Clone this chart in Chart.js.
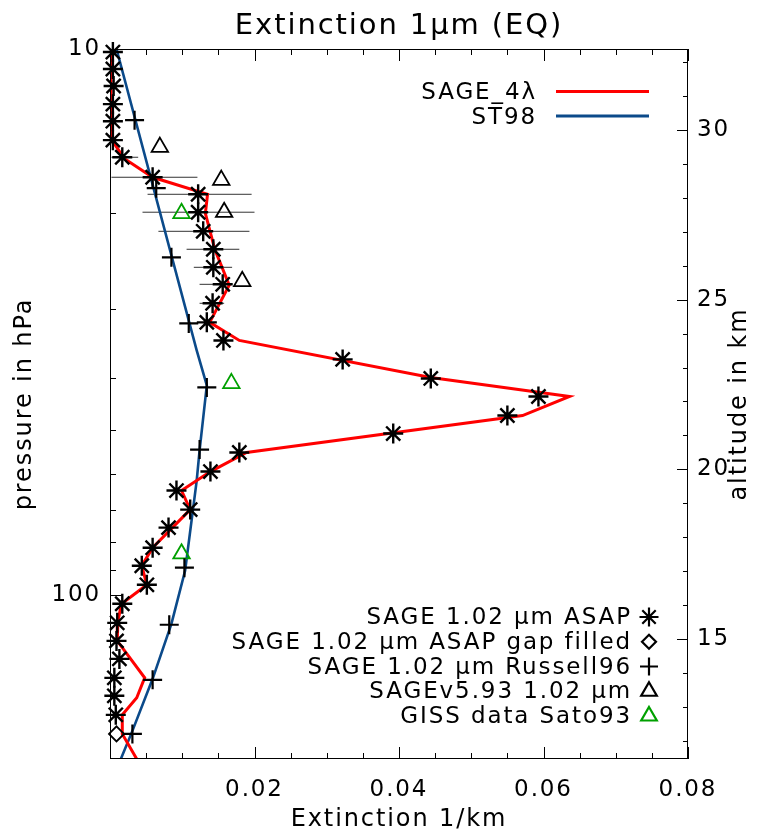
<!DOCTYPE html>
<html>
<head>
<meta charset="utf-8">
<script src="https://cdn.jsdelivr.net/npm/chart.js@4.4.0/dist/chart.umd.min.js"></script>
<style>
  body { margin: 0; background: #fff; }
</style>
</head>
<body>
<canvas id="grafico" width="760" height="837"></canvas>
<script>
//Extinction 1um (EQ) - perfil vertical

var fonte = "'DejaVu Sans', sans-serif";

// SAGE_4lambda (linha vermelha)
const sage4Pres = [10, 14.08, 14.69, 15.85, 17.18, 18.46, 20.0, 23.28, 27.1, 31.69, 34.2, 40.0, 43.33, 46.95, 54.88, 59.47, 64.44, 69.82, 82.0, 88.5, 95.9, 103.9, 111.6, 121.5, 142.0, 154.5, 166.0, 179.9, 200];
const sage4Ext = [0.0001, 0.0002, 0.0003, 0.0019, 0.0059, 0.0135, 0.0132, 0.0145, 0.0165, 0.0138, 0.0179, 0.0444, 0.0636, 0.0571, 0.0189, 0.0139, 0.0099, 0.0111, 0.0059, 0.0044, 0.0051, 0.0016, 0.0011, 0.0010, 0.0048, 0.0037, 0.0017, 0.0017, 0.0037];

// ST98 (linha azul)
const st98Pres = [10, 35.67, 41.35, 54.4, 61.8, 90.3, 113.1, 142.6, 177.6, 200];
const st98Ext = [0.0009, 0.0120, 0.0134, 0.0124, 0.0120, 0.0104, 0.0085, 0.0059, 0.0031, 0.0015];

// SAGE 1.02 um ASAP (asteriscos)
const asapPres = [10.13, 10.88, 11.69, 12.62, 13.56, 14.69, 15.79, 17.18, 18.46, 19.91, 21.58, 23.28, 25.12, 26.99, 29.24, 31.69, 34.2, 37.05, 40.15, 43.33, 46.95, 50.66, 54.88, 59.47, 64.44, 69.82, 75.34, 82.0, 88.5, 95.9, 103.9, 112.6, 121.5, 131.1, 142.0, 153.2, 166.0];
const asapExt = [0.0004, 0.0004, 0.0005, 0.0004, 0.0004, 0.0004, 0.0017, 0.0059, 0.0122, 0.0122, 0.0129, 0.0143, 0.0143, 0.0156, 0.0142, 0.0134, 0.0157, 0.0322, 0.0444, 0.0593, 0.0550, 0.0392, 0.0179, 0.0139, 0.0092, 0.0111, 0.0081, 0.0059, 0.0044, 0.0051, 0.0017, 0.0010, 0.0009, 0.0013, 0.0006, 0.0006, 0.0008];

// barras de erro do ASAP
const erroPres = [15.79, 17.18, 18.46, 19.91, 21.58, 23.28, 25.12, 26.99, 29.24];
const erroMin = [0.0002, 0.0002, 0.0052, 0.0045, 0.0067, 0.0106, 0.0116, 0.0124, 0.0124];
const erroMax = [0.0039, 0.0121, 0.0196, 0.0200, 0.0193, 0.0179, 0.0169, 0.0169, 0.0158];

// ASAP gap filled (losango)
const gapPres = [179.9];
const gapExt = [0.0009];

// Russell96 (+)
const russPres = [13.5, 17.99, 24.08, 31.83, 41.7, 54.2, 89.2, 113.5, 143.2, 179.9];
const russExt = [0.0034, 0.0064, 0.0085, 0.0109, 0.0134, 0.0124, 0.0103, 0.0082, 0.0059, 0.0031];

// SAGEv5.93 (triangulo preto)
const v593Pres = [15.13, 17.39, 19.91, 26.65];
const v593Ext = [0.0069, 0.0154, 0.0158, 0.0183];

// GISS Sato93 (triangulo verde)
const gissPres = [9.8, 20.0, 41.0, 84.1];
const gissExt = [0.0006, 0.0099, 0.0168, 0.0099];

// ticks
const ticksExt = [0, 0.005, 0.01, 0.015, 0.02, 0.025, 0.03, 0.035, 0.04, 0.045, 0.05, 0.055, 0.06, 0.065, 0.07, 0.075, 0.08];
const ticksPres = [20, 30, 40, 50, 60, 70, 80, 90, 100];
const ticksKm = [12, 13, 14, 15, 16, 17, 18, 19, 20, 21, 22, 23, 24, 25, 26, 27, 28, 29, 30, 31, 32];
const rotulosPres = [10, 100];

const legendaLinhas = [
  { texto: 'SAGE_4λ', cor: '#ff0000' },
  { texto: 'ST98', cor: '#0b4a8a' }
];
const legendaPontos = [
  { texto: 'SAGE 1.02 μm ASAP', estilo: 'star', cor: '#000', raio: 9.5 },
  { texto: 'SAGE 1.02 μm ASAP gap filled', estilo: 'rectRot', cor: '#000', raio: 7 },
  { texto: 'SAGE 1.02 μm Russell96', estilo: 'cross', cor: '#000', raio: 9 },
  { texto: 'SAGEv5.93 1.02 μm', estilo: 'triangle', cor: '#000', raio: 9 },
  { texto: 'GISS data Sato93', estilo: 'triangle', cor: '#00a000', raio: 9 }
];

function pontos(xs, ys) {
  return xs.map((v, i) => ({ x: v, y: ys[i] }));
}

var barras = [];
for (let i = 0; i < erroPres.length; i++) {
  barras.push({ x: erroMin[i], y: erroPres[i] });
  barras.push({ x: erroMax[i], y: erroPres[i] });
  barras.push({ x: null, y: null });
}

function marcador(ctx, estilo, raio, x, y, largura) {
  if (Chart.helpers && Chart.helpers.drawPoint) {
    Chart.helpers.drawPoint(ctx, { pointStyle: estilo, radius: raio, rotation: 0, borderWidth: largura }, x, y);
  }
}

const extras = {
  id: 'extras',
  beforeDraw(chart) {
    chart.ctx.letterSpacing = '1.9px';
  },
  afterDraw(chart) {
    const ctx = chart.ctx;
    const a = chart.chartArea;
    const sx = chart.scales.x, sy = chart.scales.y, sz = chart.scales.y2;
    ctx.save();
    ctx.strokeStyle = '#000';
    ctx.lineWidth = 1;
    ctx.strokeRect(a.left + 0.5, a.top + 0.5, a.right - a.left - 1, a.bottom - a.top - 1);

    // ticks para dentro
    ctx.beginPath();
    ticksExt.forEach((v, i) => {
      const px = Math.round(sx.getPixelForValue(v)) + 0.5;
      const len = i % 4 === 0 ? 12 : 6;
      ctx.moveTo(px, a.bottom); ctx.lineTo(px, a.bottom - len);
      ctx.moveTo(px, a.top); ctx.lineTo(px, a.top + len);
    });
    ticksPres.forEach(p => {
      const py = Math.round(sy.getPixelForValue(p)) + 0.5;
      const len = p === 100 ? 12 : 6;
      ctx.moveTo(a.left, py); ctx.lineTo(a.left + len, py);
    });
    ticksKm.forEach(km => {
      const py = Math.round(sz.getPixelForValue(km)) + 0.5;
      const len = km % 5 === 0 ? 11 : 5;
      ctx.moveTo(a.right, py); ctx.lineTo(a.right - len, py);
    });
    ctx.stroke();

    ctx.fillStyle = '#000';
    ctx.textBaseline = 'alphabetic';

    // titulo
    ctx.font = '29px ' + fonte;
    ctx.textAlign = 'center';
    ctx.fillText('Extinction 1μm (EQ)', (a.left + a.right) / 2, 34);

    // titulo do eixo da direita
    ctx.save();
    ctx.translate(746, (a.top + a.bottom) / 2);
    ctx.rotate(-Math.PI / 2);
    ctx.font = '24px ' + fonte;
    ctx.fillText('altitude in km', 0, 0);
    ctx.restore();

    // legenda das linhas
    ctx.font = '23px ' + fonte;
    ctx.textAlign = 'right';
    legendaLinhas.forEach((item, i) => {
      const y = 99 + i * 24.5;
      ctx.fillStyle = '#000';
      ctx.fillText(item.texto, 537, y);
      ctx.strokeStyle = item.cor;
      ctx.lineWidth = 3;
      ctx.beginPath();
      ctx.moveTo(556, y - 7.5);
      ctx.lineTo(649, y - 7.5);
      ctx.stroke();
    });

    // legenda dos simbolos
    legendaPontos.forEach((item, i) => {
      const y = 624 + i * 24.75;
      ctx.fillStyle = '#000';
      ctx.fillText(item.texto, 632, y);
      ctx.strokeStyle = item.cor;
      ctx.fillStyle = 'rgba(0,0,0,0)';
      ctx.lineWidth = 2.2;
      marcador(ctx, item.estilo, item.raio, 649, y - 7, 2.2);
    });
    ctx.restore();
    ctx.letterSpacing = '0px';
  }
};

Chart.defaults.font.family = fonte;
Chart.defaults.color = '#000';

new Chart(document.getElementById('grafico'), {
  type: 'scatter',
  data: {
    datasets: [
      {
        label: 'SAGE 1.02 um ASAP',
        data: pontos(asapExt, asapPres),
        pointStyle: 'star',
        pointRadius: 10,
        borderColor: '#000',
        backgroundColor: 'rgba(0,0,0,0)',
        borderWidth: 2.4,
        clip: false
      }, {
        label: 'gap filled',
        data: pontos(gapExt, gapPres),
        pointStyle: 'rectRot',
        pointRadius: 7.5,
        borderColor: '#000',
        backgroundColor: 'rgba(0,0,0,0)',
        borderWidth: 1.8,
        clip: false
      }, {
        label: 'Russell96',
        data: pontos(russExt, russPres),
        pointStyle: 'cross',
        pointRadius: 9.5,
        borderColor: '#000',
        borderWidth: 2.2
      }, {
        label: 'SAGEv5.93',
        data: pontos(v593Ext, v593Pres),
        pointStyle: 'triangle',
        pointRadius: 9.5,
        borderColor: '#000',
        backgroundColor: 'rgba(0,0,0,0)',
        borderWidth: 1.8
      }, {
        label: 'GISS Sato93',
        data: pontos(gissExt, gissPres),
        pointStyle: 'triangle',
        pointRadius: 9.5,
        borderColor: '#00a000',
        backgroundColor: 'rgba(0,0,0,0)',
        borderWidth: 1.8
      }, {
        label: 'SAGE_4λ',
        data: pontos(sage4Ext, sage4Pres),
        showLine: true,
        borderColor: '#ff0000',
        borderWidth: 3,
        pointRadius: 0,
        tension: 0
      }, {
        label: 'ST98',
        data: pontos(st98Ext, st98Pres),
        showLine: true,
        borderColor: '#0b4a8a',
        borderWidth: 2.6,
        pointRadius: 0,
        tension: 0
      }, {
        label: 'erro',
        data: barras,
        showLine: true,
        spanGaps: false,
        borderColor: '#333',
        borderWidth: 1,
        pointRadius: 0
      }
    ]
  },
  options: {
    responsive: false,
    animation: false,
    layout: { padding: { top: 49, left: 0, right: 0, bottom: 0 } },
    plugins: {
      legend: { display: false },
      tooltip: { enabled: false }
    },
    scales: {
      x: {
        type: 'linear',
        min: 0,
        max: 0.08,
        grid: { display: false, drawTicks: false },
        border: { display: false },
        ticks: {
          stepSize: 0.02,
          padding: 17,
          font: { size: 23 },
          callback: (v) => v === 0 ? '' : v.toFixed(2)
        },
        title: {
          display: true,
          text: 'Extinction 1/km',
          font: { size: 24 },
          padding: { top: 0, bottom: 3 }
        },
        afterFit: (s) => { s.height = 78; }
      },
      y: {
        type: 'logarithmic',
        reverse: true,
        min: 10,
        max: 200,
        grid: { display: false, drawTicks: false },
        border: { display: false },
        ticks: {
          autoSkip: false,
          padding: 9,
          font: { size: 23 },
          callback: (v) => rotulosPres.includes(v) ? String(v) : ''
        },
        title: {
          display: true,
          text: 'pressure in hPa',
          font: { size: 24 },
          padding: { top: 10, bottom: 0 }
        },
        afterFit: (s) => { s.width = 110; }
      },
      y2: {
        type: 'linear',
        position: 'right',
        min: 11.462,
        max: 32.387,
        grid: { display: false, drawTicks: false },
        border: { display: false },
        ticks: {
          autoSkip: false,
          stepSize: 1,
          padding: 9,
          font: { size: 23 },
          callback: (v) => (Math.abs(v % 5) < 1e-6) ? String(v) : ''
        },
        afterFit: (s) => { s.width = 72; }
      }
    }
  },
  plugins: [extras]
});
</script>
</body>
</html>
